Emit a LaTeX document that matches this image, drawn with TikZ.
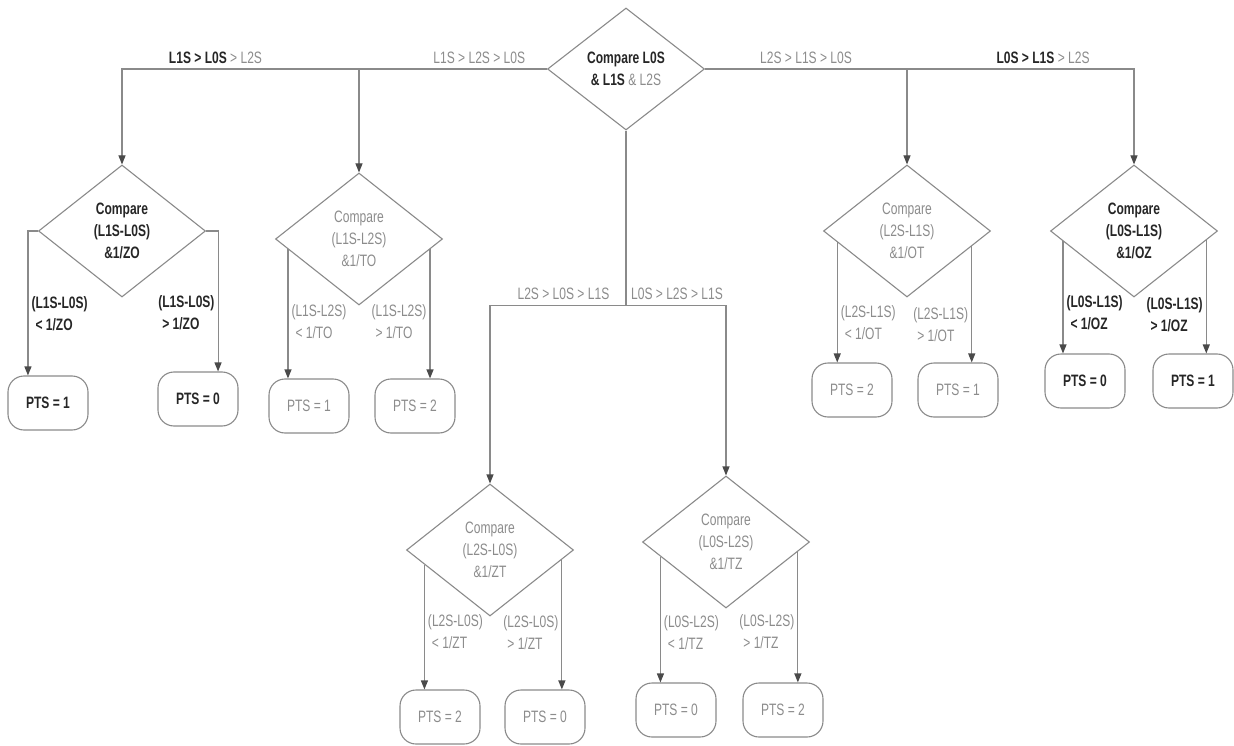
\documentclass[tikz,border=0pt]{standalone}
\usepackage{fontspec}
\setmainfont{Liberation Sans}[FakeStretch=0.73]
\usetikzlibrary{shapes.geometric,arrows.meta,calc}
\definecolor{txtk}{HTML}{262626}
\definecolor{txtg}{HTML}{8C8C8C}
\definecolor{linec}{HTML}{8A8A8A}
\definecolor{tipc}{HTML}{4A4A4A}
\newcommand\fs{\fontsize{16.5}{22}\selectfont}

\begin{document}
\begin{tikzpicture}[x=1pt,y=-1pt,
  every node/.style={font=\fs,text=txtk},
  dia/.style={diamond,draw=linec,line width=1.1pt,minimum width=167pt,minimum height=132pt,inner sep=0pt,align=center},
  pts/.style={draw=linec,line width=1.1pt,rounded corners=16pt,minimum width=80pt,minimum height=54pt},
  ln/.style={draw=linec,line width=1.1pt},
  arr/.style={ln,-{Triangle[length=9pt,width=7pt,color=tipc]}},
  lbl/.style={align=left,inner sep=3pt},
  seqlbl/.style={anchor=south,inner sep=0pt,yshift=5pt,text=txtg}]
\useasboundingbox (0,0) rectangle (1234,746);

% start
\node[dia,minimum width=157pt,minimum height=122pt,font=\fs\bfseries] (m) at (626,69) {Compare L0S\\\& L1S \textcolor{txtg}{\mdseries\& L2S}};
\coordinate (mj) at ($(m.south)+(0,175)$);

% results
\foreach \n/\x/\y/\tc/\f/\val in {d1-l/48/403/txtk/\bfseries/1, d1-r/198/399/txtk/\bfseries/0,
  d2-l/309/406/txtg/\mdseries/1, d2-r/415/406/txtg/\mdseries/2,
  d5-l/440/717/txtg/\mdseries/2, d5-r/545/717/txtg/\mdseries/0,
  d6-l/676/710/txtg/\mdseries/0, d6-r/783/710/txtg/\mdseries/2,
  d3-l/852/390/txtg/\mdseries/2, d3-r/958/390/txtg/\mdseries/1,
  d4-l/1085/381/txtk/\bfseries/0, d4-r/1193/381/txtk/\bfseries/1}
  \node[pts,text=\tc,font=\fs\f] (\n) at (\x,\y) {PTS = \val};

% first comparison
\node[dia,font=\fs\bfseries] (d1) at (122,231) {Compare\\(L1S-L0S)\\\&1/ZO};
\coordinate (d1a) at ([xshift=-10pt]d1.west);
\coordinate (d1b) at ([xshift=12pt]d1.east);
\draw[arr] (d1.west) -- (d1a) -- node[lbl,anchor=west,pos=.57,font=\fs\bfseries]{(L1S-L0S)\\\hspace*{4pt}< 1/ZO} (d1a |- d1-l.north);
\draw[arr] (d1.east) -- (d1b) -- node[lbl,anchor=east,pos=.58,font=\fs\bfseries]{(L1S-L0S)\\\hspace*{4pt}> 1/ZO} (d1b |- d1-r.north);

% other comparisons
\foreach \n/\x/\y/\tc/\f/\pa/\thr/\fl/\fr/\pl/\pr in {
  d2/359/239/txtg/\mdseries/(L1S-L2S)/TO/.155/.155/.56/.56,
  d3/907/231/txtg/\mdseries/(L2S-L1S)/OT/.17/.23/.67/.67,
  d4/1134/231/txtk/\bfseries/(L0S-L1S)/OZ/.155/.14/.64/.66,
  d5/490/550/txtg/\mdseries/(L2S-L0S)/ZT/.22/.145/.54/.56,
  d6/726/542/txtg/\mdseries/(L0S-L2S)/TZ/.22/.145/.6/.61} {
  \node[dia,text=\tc,font=\fs\f] (\n) at (\x,\y) {Compare\\\pa\\\&1/\thr};
  \coordinate (\n a) at ($(\n.west)!\fl!(\n.south)$);
  \coordinate (\n b) at ($(\n.east)!\fr!(\n.south)$);
  \draw[arr] (\n a) -- node[lbl,anchor=west,pos=\pl,text=\tc,font=\fs\f]{\pa\\\hspace*{4pt}< 1/\thr} (\n a |- \n-l.north);
  \draw[arr] (\n b) -- node[lbl,anchor=east,pos=\pr,text=\tc,font=\fs\f]{\pa\\\hspace*{4pt}> 1/\thr} (\n b |- \n-r.north);
}

% orderings
\draw[arr] (m.west) -| node[seqlbl,pos=.39]{{\bfseries\color{txtk}L1S > L0S} > L2S} (d1.north);
\draw[arr] (m.west) -| node[seqlbl,pos=.18]{L1S > L2S > L0S} (d2.north);
\draw[arr] (m.east) -| node[seqlbl,pos=.25]{L2S > L1S > L0S} (d3.north);
\draw[arr] (m.east) -| node[seqlbl,pos=.394]{{\bfseries\color{txtk}L0S > L1S} > L2S} (d4.north);
\draw[ln] (m.south) -- (mj);
\draw[arr] (mj) -| node[seqlbl,pos=.23]{L2S > L0S > L1S} (d5.north);
\draw[arr] (mj) -| node[seqlbl,pos=.255]{L0S > L2S > L1S} (d6.north);
\end{tikzpicture}
\end{document}
